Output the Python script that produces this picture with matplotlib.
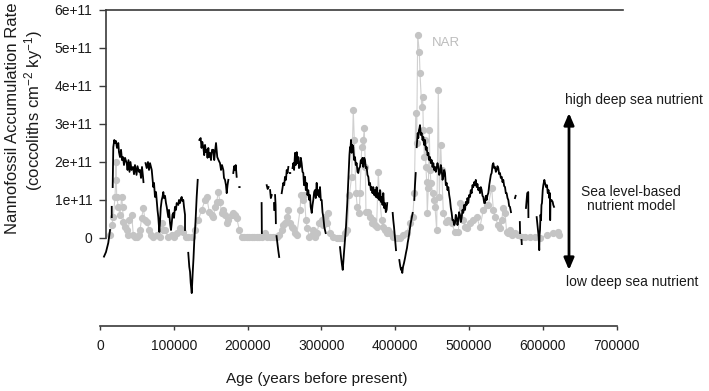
import numpy as np
import matplotlib
matplotlib.use("Agg")
import matplotlib.pyplot as plt

plt.rcParams['font.family'] = ['Liberation Sans', 'DejaVu Sans']
plt.rcParams['mathtext.fontset'] = 'custom'
plt.rcParams['mathtext.rm'] = 'Liberation Sans'
plt.rcParams['mathtext.it'] = 'Liberation Sans:italic'

G = np.nan  # gap in the model record

# Sea level-based nutrient model (age in ka, value in 1e11 coccoliths cm-2 ky-1)
model_age_ka = [
    5.4, 8.1, 11.2, 13.6, G, 15.9, 15.9, G,
    17.2, 18.0, 19.4, 20.3, 21.7, 23.0, 24.8, 25.7, 27.1, 28.5, 29.8, 31.2, 32.5, 33.9,
    36.2, 37.3, 38.6, 40.0, 41.3, 42.7, 44.7, 46.1, 47.4, 49.5, 50.8, 52.8, 54.2, 55.6,
    56.9, 58.3, 58.9, G,
    61.7, 63.3, 65.0, 66.4, 67.8, 70.1, 72.2, 73.2, 74.5, 75.9, 76.8, 77.9, 79.0, 80.4,
    81.3, 82.3, 83.6, 84.7, 85.8, 86.7, 88.1, 89.4, 90.4, 91.5, 92.5, 93.5, 94.9, 96.2,
    97.2, 98.2, 99.3, 100.3, 101.6, 103.0, 103.9, 106.1, 107.0, 108.4, 109.8, 110.7,
    111.8, 112.9, 113.8, 115.2, 115.2, G,
    119.6, 120.6, 121.0, 122.0, 122.9, 124.3, 124.9, 125.6, 126.7, 127.8, 129.4, 131.0,
    132.4, G,
    134.6, 136.4, 137.6, 138.6, 140.0, 141.2, 142.3, 143.6, 144.6, 145.7, 146.8, 147.7,
    149.1, 150.4, 151.8, 153.6, 154.8, 155.8, 157.2, 158.9, 160.6, 162.6, 164.0, 165.3,
    167.1, 168.0, 169.4, 170.7, 171.7, 172.8, 173.9, G,
    180.6, 181.8, 182.9, 183.9, 185.2, G,
    188.7, 189.2, G,
    219.0, 219.3, G,
    225.9, 227.2, 228.4, G,
    230.5, 231.5, 232.7, G,
    235.8, 236.0, G,
    237.2, 237.9, 238.3, G,
    239.2, 240.3, 241.5, 242.8, G,
    246.2, 247.3, 248.4, 249.6, 250.7, 252.0, 253.0, 254.1, 255.2, G,
    257.3, 257.8, G,
    260.9, 262.0, 263.0, 264.3, 265.2, 266.6, 267.7, 268.8, 269.6, 271.0, 272.1, 273.2,
    274.4, 275.5, 276.4, 277.8, 278.9, 280.0, 281.1, 282.2, 283.6, 284.6, 285.5, 286.9,
    288.0, 289.0, 290.2, 291.3, 292.4, 293.6, 294.7, 295.8, 297.0, 298.1, 299.2, 300.4,
    301.5, 302.6, 303.9, 305.8, G,
    325.2, 326.6, 327.9, 328.9, 329.8, 330.6, 332.0, 333.3, 335.1, 337.0, 338.0, 338.8,
    339.4, 340.1, 341.0, 342.1, 343.2, 344.4, 345.5, 346.6, 347.8, 348.9, 350.0, 351.2,
    352.3, 353.4, 354.6, 355.7, 356.8, 358.0, 359.1, 360.2, 361.3, 362.4, 363.6, 364.7,
    365.9, 367.0, 368.1, 369.2, 370.3, 371.5, 372.6, 373.7, 374.8, 376.0, 377.1, 378.3,
    379.4, 380.5, 381.7, 382.8, 383.9, 385.0, 386.2, 387.3, 388.4, 389.2, G,
    396.6, 397.4, 398.4, 399.7, 401.1, G,
    405.6, 406.8, 407.9, 408.8, 409.6, 410.6, 411.9, 413.3, 414.6, 416.0, 416.9, 418.1,
    419.1, 420.1, 421.0, 422.4, 423.7, G,
    425.9, 426.8, 427.8, G,
    429.1, 429.8, 430.5, 431.3, 432.2, 432.9, 433.6, 434.7, 435.9, 437.0, 438.1, 439.2,
    440.4, 441.5, 442.6, 443.8, 444.9, 446.0, 447.2, 448.3, 449.4, 450.5, 451.7, 452.8,
    453.9, 455.0, 456.1, 457.3, 458.4, 459.6, 460.7, 461.8, 463.0, 464.1, 465.2, 466.3,
    467.5, 468.6, 469.7, 470.9, 472.0, 473.2, 474.3, 475.4, 476.5, 477.6, 478.7, 479.9,
    481.0, 482.1, 483.2, 484.4, 485.5, 486.6, 487.8, 488.9, 490.0, 491.2, 492.2, 493.4,
    494.6, 495.7, 496.8, 497.9, 499.0, 500.2, 501.4, 502.4, 503.6, 504.7, 505.8, 507.0,
    508.1, 509.2, 510.4, 511.5, 512.6, 513.8, 514.9, 516.0, 517.2, 518.3, 519.4, 520.6,
    521.7, 522.8, 523.9, 525.1, 526.2, 527.4, 528.5, 529.6, 530.7, 531.9, 533.0, 534.1,
    535.2, 536.4, 537.5, 538.6, 539.7, 540.9, 542.0, 543.1, 544.3, 545.4, 546.5, 547.6,
    548.8, 549.9, 551.0, 552.2, 553.3, 554.4, 555.5, 556.9, G,
    562.3, 563.2, G,
    568.9, 569.2, G,
    571.2, 571.5, G,
    577.2, 578.9, 580.3, 580.5, G,
    591.7, 593.0, 594.4, 595.2, 595.6, 596.2, 596.9, 597.6, 598.2, 598.9, 599.9, 600.7,
    602.1, 603.0, 604.4, 605.7, 606.7, 607.8, 608.8, 609.8, 610.0, 610.4, 611.8, 613.4,
    614.2, 615.2,
]
model_val = [
    -0.49, -0.37, -0.13, 0.21, G, 0.55, 0.82, G,
    1.34, 2.39, 2.58, 2.50, 2.55, 2.37, 2.50, 2.26, 2.13, 2.32, 2.05, 2.13, 1.92, 2.11,
    1.97, 1.79, 2.05, 1.74, 2.00, 1.79, 1.87, 1.68, 1.92, 1.66, 1.89, 1.74, 1.79, 1.58,
    1.87, 1.61, 1.47, G,
    1.97, 1.84, 2.00, 1.79, 1.97, 1.79, 1.34, 1.45, 1.08, 1.21, 1.00, 0.74, 0.55, 0.16,
    0.42, 0.79, 1.00, 1.08, 1.21, 1.05, 1.11, 0.92, 0.82, 0.68, 0.55, 0.74, 0.39, 0.21,
    0.39, 0.61, 0.66, 0.53, 0.82, 0.74, 0.92, 0.87, 1.00, 0.92, 1.05, 1.08,
    0.97, 1.00, 0.82, 0.61, 0.21, G,
    -0.39, -0.63, -0.76, -0.89, -1.18, -1.45, -1.18, -0.92, -0.53, -0.05, 0.42, 1.08,
    1.53, G,
    2.58, 2.63, 2.37, 2.53, 2.39, 2.18, 2.45, 2.26, 2.32, 2.11, 2.37, 2.13,
    2.24, 2.05, 2.32, 2.32, 2.05, 2.26, 2.50, 2.13, 2.05, 1.97, 1.79, 1.92,
    1.79, 1.58, 1.53, 1.39, 1.18, 1.39, 1.53, G,
    1.71, 1.89, 1.79, 1.92, 1.61, G,
    1.34, 1.34, G,
    0.92, 0.13, G,
    1.39, 1.29, 1.34, G,
    1.26, 1.05, 1.13, G,
    0.92, 0.74, G,
    1.13, 0.87, 0.39, G,
    0.05, -0.13, -0.32, -0.50, G,
    1.18, 1.32, 1.45, 1.39, 1.61, 1.53, 1.79, 1.71, 1.87, G,
    1.71, 1.71, G,
    1.84, 1.97, 1.79, 2.24, 1.92, 2.26, 1.97, 2.13, 1.84, 1.87, 2.11, 1.97,
    1.74, 1.71, 1.39, 1.61, 1.26, 1.45, 1.13, 1.26, 1.00, 1.13, 0.82, 0.66,
    0.87, 1.00, 1.21, 1.26, 1.05, 1.45, 1.13, 1.26, 1.08, 1.34, 1.00, 1.00,
    0.68, 0.55, 0.29, 0.13, G,
    -0.24, -0.50, -0.71, -0.84, -0.58, -0.39, -0.05, 0.29, 0.92, 1.79, 2.18, 2.39,
    2.32, 2.58, 2.24, 2.45, 2.39, 2.05, 2.13, 1.92, 1.97, 1.74, 1.71, 1.84,
    1.87, 2.05, 1.97, 2.11, 1.87, 2.11, 2.05, 1.84, 1.87, 1.66, 1.61, 1.39,
    1.45, 1.26, 1.34, 1.18, 1.34, 1.13, 1.26, 1.08, 1.34, 1.05, 1.18, 1.00,
    1.26, 0.95, 1.08, 0.87, 1.18, 0.79, 0.92, 0.68, 0.74, 0.92, G,
    0.66, 0.47, 0.29, 0.00, -0.32, G,
    -0.58, -0.74, -0.84, -0.79, -0.92, -0.76, -0.66, -0.53, -0.39, -0.26, -0.13, 0.00,
    0.13, 0.26, 0.39, 0.53, 0.66, G,
    1.00, 1.39, 1.71, G,
    2.39, 2.58, 2.76, 2.63, 2.84, 2.89, 2.97, 2.71, 2.76, 2.58, 2.66, 2.45,
    2.58, 2.32, 2.39, 2.18, 2.24, 2.05, 2.13, 1.97, 2.05, 1.87, 1.97, 1.79,
    1.87, 1.74, 1.84, 1.97, 1.87, 1.66, 1.71, 1.92, 1.79, 1.53, 1.61, 1.79,
    1.71, 1.39, 1.45, 1.26, 1.34, 1.13, 1.00, 0.79, 0.66, 0.47, 0.47, 0.34,
    0.39, 0.61, 0.53, 0.34, 0.47, 0.68, 0.61, 0.42, 0.53, 0.74, 0.66, 0.87,
    0.74, 0.95, 0.87, 1.05, 0.92, 1.13, 1.08, 1.26, 1.18, 1.39, 1.34, 1.47,
    1.39, 1.53, 1.34, 1.42, 1.26, 1.32, 1.18, 1.34, 1.26, 1.11, 1.08, 0.92,
    0.92, 1.11, 1.00, 1.13, 1.18, 1.39, 1.53, 1.66, 1.71, 1.92, 1.97, 1.84,
    1.87, 1.74, 1.79, 1.89, 1.84, 1.68, 1.71, 1.58, 1.61, 1.47, 1.53, 1.37,
    1.34, 1.18, 1.18, 1.05, 1.00, 0.84, 0.82, 0.68, G,
    1.05, 1.11, G,
    0.42, 0.13, G,
    -0.05, -0.16, G,
    0.79, 1.18, 1.21, 0.55, G,
    0.55, 0.29, 0.03, -0.32, 0.08, 0.21, 0.61, 0.47, 0.87, 0.92, 1.26, 1.39,
    1.53, 1.45, 1.34, 1.39, 1.18, 1.26, 1.05, 1.18, 0.47, 1.00, 1.00, 0.95,
    0.87, 0.82,
]

# Nannofossil accumulation rate (NAR) samples
nar_age_ka = [
    13.6, 15.9, 18.0, 20.3, 21.3, 21.7, 22.6, 24.8, 27.1, 29.4, 30.6, 31.6, 33.9, 36.2,
    37.9, 39.7, 43.0, 45.1, 47.4, 49.7, 52.2, 54.2, 56.5, 58.7, 61.0, 63.3, 66.8, 69.1,
    72.2, 76.8, 81.3, 83.6, 85.8, 88.1, 92.5, 97.2, 100.3, 103.9, 108.4, 112.1, 116.5,
    119.6, 124.3, 128.7, 133.2, 137.8, 142.3, 144.6, 148.1, 151.4, 153.6, 155.8, 158.1,
    160.3, 162.6, 164.9, 167.1, 169.4, 171.7, 173.9, 178.5, 180.6, 182.9, 185.2, 188.8,
    192.0, 195.1, 198.8, 201.9, 205.6, 208.7, 212.3, 215.4, 219.1, 223.6, 226.8, 230.4,
    234.8, 237.1, 240.5, 243.2, 246.2, 248.4, 250.7, 253.0, 255.2, 257.5, 259.8, 262.0,
    264.3, 266.6, 271.0, 272.4, 274.7, 276.8, 279.1, 280.9, 283.6, 286.9, 289.0, 291.3,
    293.6, 297.2, 300.4, 302.8, 304.9, 307.2, 309.4, 311.7, 316.1, 320.7, 323.8, 327.5,
    332.0, 335.1, 337.8, 341.0, 343.2, 344.6, 346.9, 348.6, 351.4, 352.3, 354.6, 356.8,
    358.1, 359.5, 360.4, 362.7, 365.9, 368.1, 370.3, 372.6, 374.8, 377.1, 378.5, 381.7,
    383.9, 386.2, 388.4, 390.7, 393.0, 397.4, 402.0, 406.5, 411.0, 415.6, 420.1, 423.7,
    425.9, 427.8, 429.1, 430.5, 432.7, 433.6, 435.9, 437.3, 438.1, 439.5, 440.4, 441.7,
    442.6, 443.5, 444.9, 446.2, 447.2, 448.5, 450.8, 452.6, 453.9, 456.2, 458.4, 459.8,
    461.7, 463.0, 465.2, 468.8, 472.0, 476.5, 481.0, 485.5, 487.8, 490.0, 492.2, 494.6,
    496.8, 501.4, 505.8, 510.4, 514.9, 519.4, 523.9, 526.2, 530.7, 533.0, 535.2, 539.7,
    542.0, 544.3, 546.5, 548.8, 551.0, 553.3, 555.5, 557.8, 562.3, 566.8, 571.4, 575.9,
    582.7, 589.5, 596.2, 605.3, 614.2, 621.0, 622.0,
]
nar_val = [
    0.08, 0.34, 0.55, 1.08, 1.53, 2.00, 1.08, 0.82, 0.61, 1.08, 0.82, 0.42, 0.29, 0.21,
    0.08, 0.47, 0.61, 0.08, 0.03, 0.03, 0.08, 0.21, 0.53, 0.79, 0.47, 0.42, 0.21, 0.08,
    0.03, 0.08, 0.03, 0.39, 0.21, 0.21, 0.03, 0.08, 0.03, 0.13, 0.26, 0.16, 0.03,
    0.03, 0.03, 0.21, 0.47, 0.74, 1.00, 1.08, 0.68, 0.61, 0.55, 0.82, 0.95,
    1.21, 0.95, 0.66, 0.74, 0.61, 0.39, 0.47, 0.61, 0.66, 0.61, 0.53, 0.21,
    0.03, 0.03, 0.03, 0.03, 0.03, 0.03, 0.03, 0.03, 0.03, 0.13, 0.03, 0.03,
    0.03, 0.03, 0.03, 0.08, 0.21, 0.34, 0.39, 0.55, 0.74, 0.39, 0.29, 0.26,
    0.13, 0.08, 0.74, 1.13, 1.00, 1.13, 0.47, 0.26, 0.03, 0.08, 0.21, 0.03,
    0.13, 0.39, 0.47, 0.34, 0.55, 0.39, 0.66, 0.13, 0.03, 0.00, 0.00, 0.00,
    0.13, 0.21, 1.13, 1.61, 3.37, 2.58, 1.18, 0.82, 0.66, 1.18, 2.39, 2.58,
    2.89, 1.87, 0.68, 0.68, 0.55, 0.39, 0.47, 0.34, 0.29, 1.74, 1.18, 0.47,
    0.29, 0.21, 0.13, 0.21, 0.13, 0.03, 0.00, 0.00, 0.08, 0.13, 0.39, 0.55,
    1.18, 3.29, 2.50, 5.34, 4.89, 4.34, 3.45, 3.71, 2.84, 2.13, 2.58, 1.87,
    1.47, 0.66, 1.32, 2.84, 1.79, 1.45, 1.18, 1.00, 0.82, 0.21, 3.89, 1.08,
    2.45, 1.79, 0.66, 0.42, 0.47, 0.39, 0.16, 0.16, 0.92, 0.79, 0.47, 0.29,
    0.26, 0.39, 0.47, 0.55, 0.29, 0.74, 0.87, 0.87, 1.32, 0.74, 0.55, 0.34,
    0.26, 0.47, 0.79, 0.66, 0.16, 0.13, 0.21, 0.08, 0.13, 0.08, 0.03, 0.03,
    0.03, 0.03, 0.00, 0.08, 0.13, 0.16, 0.08,
]

yticks = [0, 1e11, 2e11, 3e11, 4e11, 5e11, 6e11]
ytick_labels = ["0", "1e+11", "2e+11", "3e+11", "4e+11", "5e+11", "6e+11"]
xticks = [0, 100000, 200000, 300000, 400000, 500000, 600000, 700000]
xtick_labels = ["0", "100000", "200000", "300000", "400000", "500000", "600000", "700000"]

W, H = 709, 391
fig = plt.figure(figsize=(W / 100, H / 100), dpi=100)
XMAX = 708000
YMIN = -2.316e11
ax = fig.add_axes([100 / W, (H - 326) / H, 522.5 / W, 316 / H])

m_age = np.array(model_age_ka, dtype=float) * 1000
m_val = np.array(model_val, dtype=float) * 1e11
n_age = np.array(nar_age_ka, dtype=float) * 1000
n_val = np.array(nar_val, dtype=float) * 1e11

ax.plot(n_age, n_val, color='#d0d0d0', lw=0.8, zorder=1)
ax.plot(n_age, n_val, linestyle='none', marker='o', ms=4.2, mfc='#c4c4c4',
        mec='#c4c4c4', zorder=2)
ax.plot(m_age, m_val, color='black', lw=1.3, zorder=3)

ax.set_xlim(0, XMAX)
ax.set_ylim(YMIN, 6e11)

spine_col = '#3a3a3a'
left_x = 8800
ax.spines['right'].set_visible(False)
ax.spines['left'].set_position(('data', left_x))
ax.spines['left'].set_bounds(0, 6e11)
ax.spines['top'].set_bounds(left_x, XMAX)
ax.spines['bottom'].set_bounds(0, 700000)
for s in ('left', 'top', 'bottom'):
    ax.spines[s].set_color(spine_col)
    ax.spines[s].set_linewidth(1.2)

ax.set_yticks(yticks)
ax.set_yticklabels(ytick_labels)
ax.set_xticks(xticks)
ax.set_xticklabels(xtick_labels)
ax.tick_params(axis='y', direction='out', length=4.7, width=1.0, color=spine_col,
               pad=5.5, labelsize=10, labelcolor='#1a1a1a')
ax.tick_params(axis='x', direction='out', length=2.9, width=1.0, color=spine_col,
               pad=6.5, labelsize=10, labelcolor='#1a1a1a')

# axis titles
fig.text(316.5 / W, (H - 383) / H, "Age (years before present)", ha='center',
         va='baseline', fontsize=11, color='#1a1a1a')
fig.text(13 / W, (H - 118) / H, "Nannofossil Accumulation Rate", rotation=90,
         ha='center', va='center', fontsize=12, color='#1a1a1a')
fig.text(34 / W, (H - 111) / H, r"(coccoliths cm$^{-2}$ ky$^{-1}$)", rotation=90,
         ha='center', va='center', fontsize=12, color='#1a1a1a')

# NAR label
ax.text(469000, 5.13e11, "NAR", color='#bdbdbd', fontsize=9.5, ha='center', va='center')

# right-hand annotation
fig.text(633.5 / W, (H - 100) / H, "high deep sea nutrient", ha='center', va='center',
         fontsize=10, color='#1a1a1a')
fig.text(632.5 / W, (H - 282) / H, "low deep sea nutrient", ha='center', va='center',
         fontsize=10, color='#1a1a1a')
fig.text(631 / W, (H - 199) / H, "Sea level-based\nnutrient model", ha='center',
         va='center', fontsize=10, color='#1a1a1a', linespacing=1.05)
ax.annotate("", xy=(569 / W, (H - 113) / H), xytext=(569 / W, (H - 270) / H),
            xycoords='figure fraction', textcoords='figure fraction',
            arrowprops=dict(arrowstyle='<|-|>,head_length=0.7,head_width=0.3',
                            color='black', lw=2.0, shrinkA=0, shrinkB=0))

fig.savefig("out.png", dpi=100)
